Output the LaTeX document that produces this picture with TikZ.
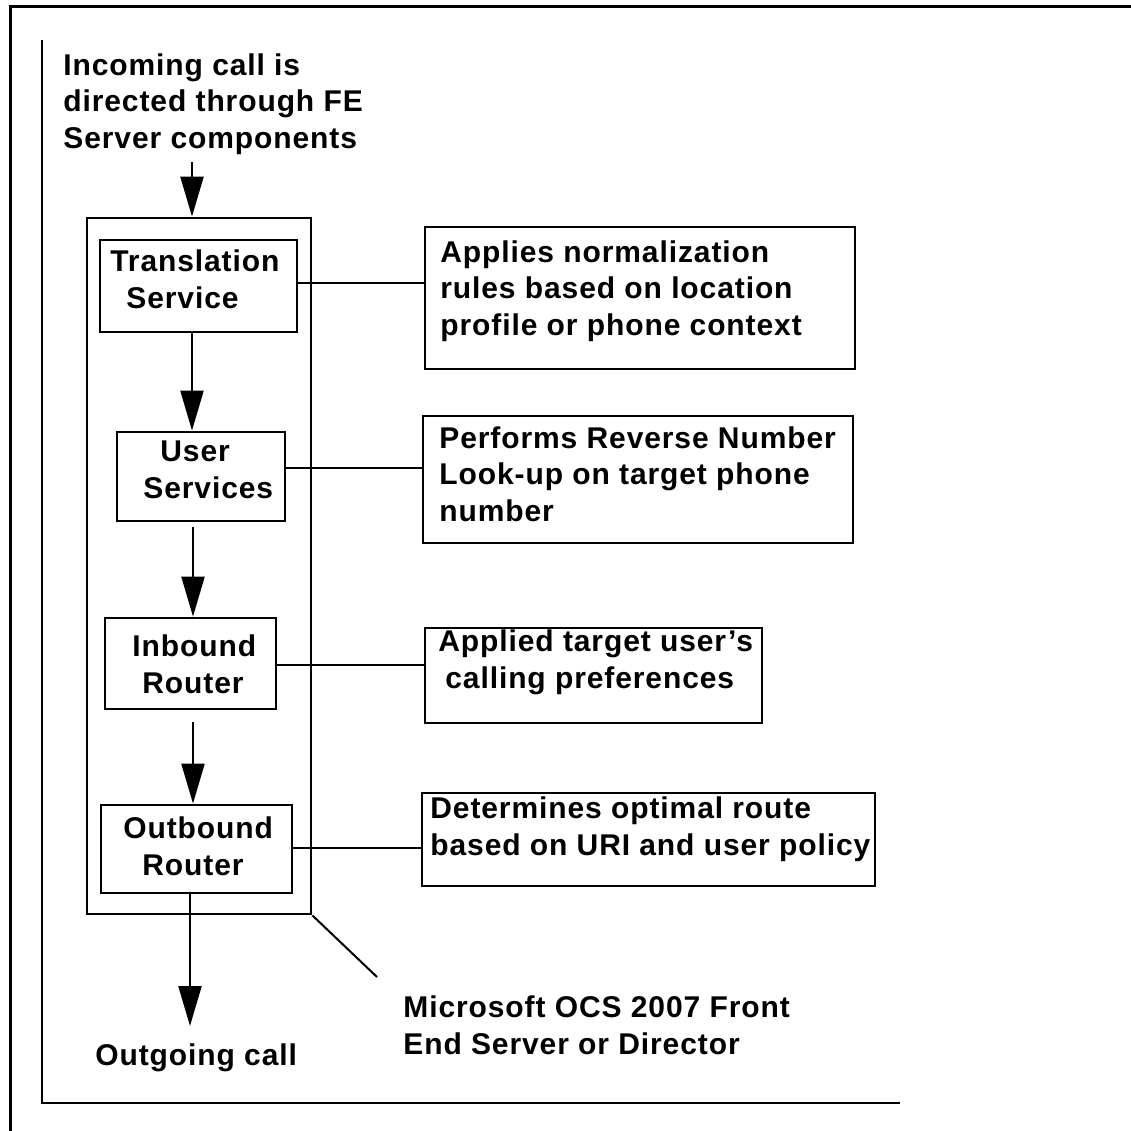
\documentclass[tikz,border=0pt]{standalone}
\usepackage{fontspec}
\setmainfont{Liberation Sans}[LetterSpace=3]
\usetikzlibrary{arrows.meta}
\begin{document}
\begin{tikzpicture}[x=0.5pt,y=-0.5pt,
  txt/.style={font=\fontsize{15pt}{18.25pt}\selectfont\bfseries, inner sep=0pt, anchor=base west, align=left},
  box/.style={draw, line width=1.4pt, inner sep=0pt},
  thinline/.style={line width=0.6pt},
  arr/.style={line width=1.1pt, -{Triangle[width=11.5pt,length=20pt]}}]
\useasboundingbox (0,0) rectangle (1131,1131);
% frames
\draw[line width=1.5pt] (10,1131) -- (10,6) -- (1131,6);
\draw[line width=0.75pt] (42,40) -- (42,1103) -- (900,1103);
% container and component boxes
\node[box, minimum width=112pt, minimum height=348pt] (fe) at (199,566) {};
\node[box, minimum width=98.5pt, minimum height=46pt] (ts) at (198.5,286) {};
\node[box, minimum width=84pt, minimum height=44.5pt] (us) at (201,476.5) {};
\node[box, minimum width=85.5pt, minimum height=45.5pt] (ib) at (190.5,663.5) {};
\node[box, minimum width=95.5pt, minimum height=44pt] (ob) at (196.5,849) {};
% description boxes
\node[box, minimum width=215pt, minimum height=71pt] (d1) at (640,298) {};
\node[box, minimum width=215pt, minimum height=63.5pt] (d2) at (638,479.5) {};
\node[box, minimum width=168.5pt, minimum height=47.5pt] (d3) at (593.5,675.5) {};
\node[box, minimum width=226.5pt, minimum height=46.5pt] (d4) at (648.5,839.5) {};
% texts (anchor = baseline of the last line)
\node[txt] (inc) at (63,148) {Incoming call is\\directed through FE\\Server components};
\node[txt] (outc) at (95,1065) {Outgoing call};
\node[txt] (ms) at (403,1054) {Microsoft OCS 2007 Front\\End Server or Director};
\node[txt] (tsl) at (110,308) {Translation\\\hspace*{8pt}Service};
\node[txt] (usl) at (143,498) {\hspace*{8.5pt}User\\Services};
\node[txt] (ibl) at (132,693) {Inbound\\\hspace*{5pt}Router};
\node[txt] (obl) at (123,875) {Outbound\\\hspace*{9.5pt}Router};
\node[txt] (d1l) at (440,335) {Applies normalization\\rules based on location\\profile or phone context};
\node[txt] (d2l) at (439,521) {Performs Reverse Number\\Look-up on target phone\\number};
\node[txt] (d3l) at (438,688) {Applied target user’s\\\hspace*{3.5pt}calling preferences};
\node[txt] (d4l) at (430,855) {Determines optimal route\\based on URI and user policy};
% connectors to descriptions
\coordinate (c1) at (0,283);
\coordinate (c2) at (0,468);
\coordinate (c3) at (0,665);
\coordinate (c4) at (0,848);
\draw[thinline] (ts.east |- c1) -- (d1.west |- c1);
\draw[thinline] (us.east |- c2) -- (d2.west |- c2);
\draw[thinline] (ib.east |- c3) -- (d3.west |- c3);
\draw[thinline] (ob.east |- c4) -- (d4.west |- c4);
% flow arrows
\coordinate (inA) at (192,162);
\coordinate (ax) at (192,0);
\coordinate (a3) at (193,527);
\coordinate (a4) at (193,722);
\coordinate (outA) at (190,1026);
\draw[arr] (inA) -- (fe.north -| inA);
\draw[arr] (ts.south -| ax) -- (us.north -| ax);
\draw[arr] (a3) -- (ib.north -| a3);
\draw[arr] (a4) -- (ob.north -| a4);
\draw[arr] (ob.south -| outA) -- (outA);
% pointer to container
\coordinate (dg) at (377,977);
\draw[line width=1pt] (fe.south east) -- (dg);
\end{tikzpicture}
\end{document}
